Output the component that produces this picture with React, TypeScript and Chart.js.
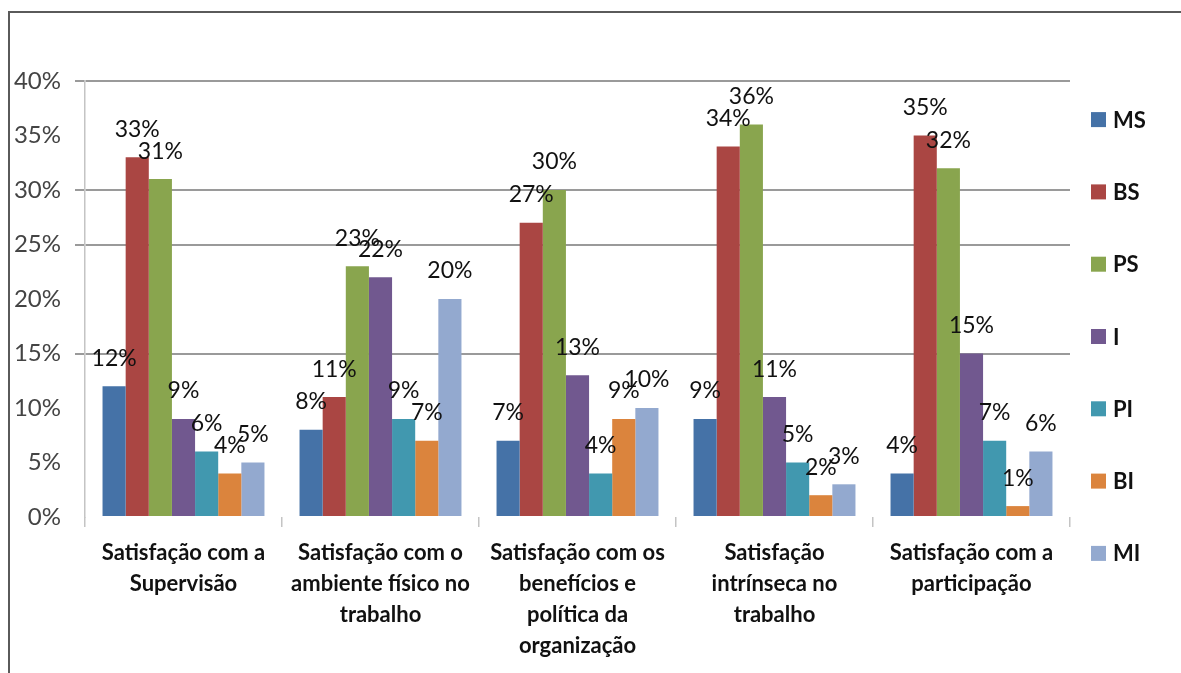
import React, { useEffect, useRef } from "react";
import { Chart, registerables } from "chart.js";

Chart.register(...registerables);

const categories: string[][] = [
  ["Satisfação com a", "Supervisão"],
  ["Satisfação com o", "ambiente físico no", "trabalho"],
  ["Satisfação com os", "benefícios e", "política da", "organização"],
  ["Satisfação", "intrínseca no", "trabalho"],
  ["Satisfação com a", "participação"],
];

const seriesNames = ["MS", "BS", "PS", "I", "PI", "BI", "MI"];
const seriesColors = ["#4572A7", "#AA4643", "#89A54E", "#71588F", "#4198AF", "#DB843D", "#93A9CF"];

const MS = [12, 8, 7, 9, 4];
const BS = [33, 11, 27, 34, 35];
const PS = [31, 23, 30, 36, 32];
const I = [9, 22, 13, 11, 15];
const PI = [6, 9, 4, 5, 7];
const BI = [4, 7, 9, 2, 1];
const MI = [5, 20, 10, 3, 6];

const seriesValues = [MS, BS, PS, I, PI, BI, MI];

const yTicksShown = [0, 5, 10, 15, 20, 25, 30, 35, 40];
const visibleGridValues = [15, 25, 30, 40];

const FONT = "Lato, 'Open Sans', sans-serif";

const framePlugin = {
  id: "frame",
  beforeDraw(chart: any) {
    const c = chart.ctx;
    c.save();
    c.strokeStyle = "#5a5a5a";
    c.lineWidth = 2;
    c.beginPath();
    c.moveTo(9, chart.height);
    c.lineTo(9, 12);
    c.lineTo(chart.width, 12);
    c.stroke();
    c.restore();
  },
};

const dataLabelPlugin = {
  id: "dataLabels",
  afterDatasetsDraw(chart: any) {
    const c = chart.ctx;
    c.save();
    c.font = `23px ${FONT}`;
    c.fillStyle = "#111";
    c.textAlign = "center";
    c.textBaseline = "middle";
    chart.data.datasets.forEach((ds: any, di: number) => {
      const meta = chart.getDatasetMeta(di);
      meta.data.forEach((el: any, i: number) => {
        c.fillText(ds.data[i] + "%", el.x, el.y - 28);
      });
    });
    c.restore();
  },
};

const legendPlugin = {
  id: "customLegend",
  afterDraw(chart: any) {
    const c = chart.ctx;
    const n = chart.data.datasets.length;
    const spacing = 72.3;
    const cy = chart.height / 2;
    const startY = cy - ((n - 1) * spacing) / 2;
    c.save();
    c.font = `bold 22px ${FONT}`;
    c.textAlign = "left";
    c.textBaseline = "middle";
    chart.data.datasets.forEach((ds: any, i: number) => {
      const y = startY + i * spacing;
      c.fillStyle = ds.backgroundColor;
      c.fillRect(1091, y - 7.5, 15, 15);
      c.fillStyle = "#111";
      c.fillText(ds.label, 1113, y + 1);
    });
    c.restore();
  },
};

export default function App() {
  const ref = useRef<HTMLCanvasElement>(null);

  useEffect(() => {
    if (!ref.current) return;
    const chart = new Chart(ref.current, {
      type: "bar",
      data: {
        labels: categories as any,
        datasets: seriesNames.map((name, i) => ({
          label: name,
          data: seriesValues[i],
          backgroundColor: seriesColors[i],
          borderWidth: 0,
          categoryPercentage: 0.822,
          barPercentage: 1.0,
        })),
      },
      options: {
        responsive: false,
        animation: false,
        layout: { padding: { top: 81, right: 111, bottom: 0, left: 0 } },
        plugins: {
          legend: { display: false },
          tooltip: { enabled: false },
        },
        scales: {
          x: {
            grid: {
              offset: true,
              drawOnChartArea: false,
              drawTicks: true,
              tickLength: 10,
              color: "#c4c4c4",
              lineWidth: 1.5,
            },
            border: { display: false },
            ticks: {
              font: { family: FONT, size: 22, weight: "bold", lineHeight: 1.41 },
              color: "#111",
              padding: 10,
              maxRotation: 0,
              autoSkip: false,
            },
            afterFit: (s: any) => {
              s.height = 156;
            },
          },
          y: {
            min: 0,
            max: 40,
            afterBuildTicks: (s: any) => {
              s.ticks = yTicksShown.map((v) => ({ value: v }));
            },
            ticks: {
              callback: (v: any) => v + "%",
              font: { family: FONT, size: 24 },
              color: "#444",
              padding: 14,
            },
            grid: {
              color: (ctx: any) =>
                ctx.tick && visibleGridValues.includes(ctx.tick.value) ? "#9a9a9a" : "rgba(0,0,0,0)",
              lineWidth: 2,
              tickLength: 10,
            },
            border: { display: true, color: "#c4c4c4", width: 1.5 },
            afterFit: (s: any) => {
              s.width = 85;
            },
          },
        },
      } as any,
      plugins: [framePlugin, dataLabelPlugin, legendPlugin],
    });
    return () => chart.destroy();
  }, []);

  return (
    <div style={{ position: "absolute", left: 0, top: 0, width: 1181, height: 673, background: "#fff" }}>
      <canvas ref={ref} width={1181} height={673} style={{ width: 1181, height: 673, display: "block" }} />
    </div>
  );
}
